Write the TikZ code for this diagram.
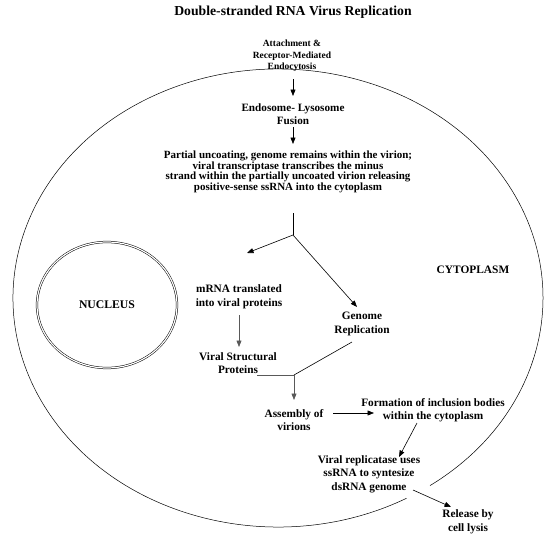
\documentclass[tikz,border=0pt]{standalone}
\usepackage{fontspec}
\setmainfont{Liberation Serif}
\usetikzlibrary{arrows.meta}
\tikzset{
  txt/.style={font=\bfseries\fontsize{11.3}{13.5}\selectfont, align=center, inner sep=0pt},
  arr/.style={line width=0.6pt, -{Triangle[length=6.5pt,width=5pt]}},
  grayarr/.style={line width=0.6pt, black!65, -{Triangle[length=6.5pt,width=5pt]}},
  ln/.style={line width=0.6pt},
  grayln/.style={line width=0.6pt, black!65},
}
\begin{document}
\begin{tikzpicture}[x=1pt,y=-1pt]
\useasboundingbox (0,0) rectangle (550,547);
% cell membrane with a gap near the lower right
\coordinate (cc) at (278,298);
\draw[line width=0.5pt] (cc) ++(61:265 and 229) arc[start angle=61, end angle=415, x radius=265, y radius=229];
% nucleus
\draw[double, double distance=1.2pt, line width=0.5pt] (107,305) ellipse[x radius=70, y radius=63];
\node[txt, font=\bfseries\fontsize{11.7}{13}\selectfont] (nuc) at (107,305) {NUCLEUS};
\node[txt, font=\bfseries\fontsize{11.4}{13}\selectfont] (cyto) at (473,270) {CYTOPLASM};

\node[txt, font=\bfseries\fontsize{13.7}{15}\selectfont] (title) at (293,12) {Double-stranded RNA Virus Replication};
\node[txt, font=\bfseries\fontsize{9.5}{11.5}\selectfont] (att) at (292,56) {Attachment \&\\Receptor-Mediated\\Endocytosis};
\node[txt, font=\bfseries\fontsize{11.2}{13}\selectfont] (endo) at (293,114) {Endosome- Lysosome\\Fusion};
\node[txt, font=\bfseries\fontsize{11}{10.5}\selectfont] (unc) at (288,172) {Partial uncoating, genome remains within the virion;\\viral transcriptase transcribes the minus\\strand within the partially uncoated virion releasing\\positive-sense ssRNA into the cytoplasm};
\node[txt] (mrna) at (239,297) {mRNA translated\\into viral proteins};
\node[txt] (gen) at (362,324) {Genome\\Replication};
\node[txt] (vsp) at (238,363) {Viral Structural\\Proteins};
\node[txt] (asm) at (294,420) {Assembly of\\virions};
\node[txt] (form) at (433,410) {Formation of inclusion bodies\\within the cytoplasm};
\node[txt] (rep) at (369,474) {Viral replicatase uses\\ssRNA to syntesize\\dsRNA genome};
\node[txt] (rel) at (468,522) {Release by\\cell lysis};

% connectors
\coordinate (a1s) at (293,79);
\coordinate (a1e) at (293,96);
\draw[arr] (a1s) -- (a1e);
\coordinate (a2s) at (293,127);
\coordinate (a2e) at (293,144);
\draw[arr] (a2s) -- (a2e);
\coordinate (btop) at (293,213);
\coordinate (b) at (293,235);
\coordinate (mtip) at (247,253);
\coordinate (gtip) at (357,307);
\draw[ln] (btop) -- (b);
\draw[arr] (b) -- (mtip);
\draw[arr] (b) -- (gtip);
\coordinate (ms) at (239,315);
\coordinate (me) at (239,347);
\draw[grayarr] (ms) -- (me);
\coordinate (j) at (294,375);
\coordinate (vr) at (257,375);
\coordinate (gb) at (352,342);
\coordinate (ae) at (294,400);
\draw[grayln] (vr) -- (j);
\draw[ln] (gb) -- (j);
\draw[grayarr] (j) -- (ae);
\coordinate (as1) at (333,413);
\coordinate (as2) at (374,413);
\draw[arr] (as1) -- (as2);
\coordinate (f1) at (417,423);
\coordinate (f2) at (399,457);
\draw[arr] (f1) -- (f2);
\coordinate (r1) at (413,490);
\coordinate (r2) at (451,507);
\draw[arr] (r1) -- (r2);
\end{tikzpicture}
\end{document}
